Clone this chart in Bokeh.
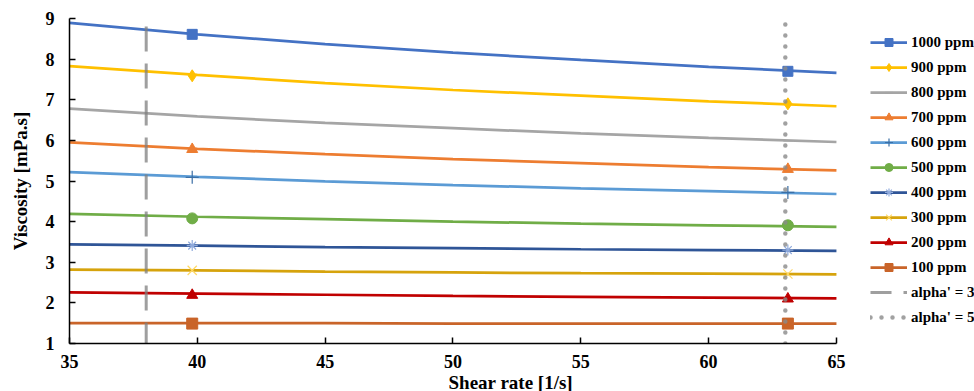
from bokeh.plotting import figure
from bokeh.models import Legend, LegendItem, Title, FixedTicker, Range1d
from bokeh.embed import file_html
from bokeh.resources import INLINE

# ---------------- data ----------------
shear = [35, 40, 45, 50, 55, 60, 65]
v1000 = [8.89, 8.61, 8.37, 8.16, 7.98, 7.81, 7.66]
v900 = [7.83, 7.61, 7.41, 7.24, 7.10, 6.96, 6.84]
v800 = [6.78, 6.59, 6.43, 6.30, 6.17, 6.06, 5.96]
v700 = [5.95, 5.79, 5.66, 5.54, 5.44, 5.34, 5.26]
v600 = [5.22, 5.10, 4.99, 4.90, 4.82, 4.75, 4.68]
v500 = [4.19, 4.12, 4.06, 4.00, 3.95, 3.91, 3.87]
v400 = [3.44, 3.41, 3.37, 3.35, 3.32, 3.30, 3.28]
v300 = [2.82, 2.80, 2.77, 2.75, 2.73, 2.72, 2.70]
v200 = [2.26, 2.23, 2.20, 2.17, 2.15, 2.13, 2.11]
v100 = [1.50, 1.50, 1.50, 1.49, 1.49, 1.49, 1.49]

marker_x = [39.8, 63.1]
m1000 = [8.61, 7.70]
m900 = [7.59, 6.90]
m800 = [6.60, 5.99]
m700 = [5.78, 5.29]
m600 = [5.09, 4.72]
m500 = [4.08, 3.91]
m400 = [3.41, 3.30]
m300 = [2.80, 2.71]
m200 = [2.19, 2.10]
m100 = [1.49, 1.49]

labels = ["1000 ppm", "900 ppm", "800 ppm", "700 ppm", "600 ppm",
          "500 ppm", "400 ppm", "300 ppm", "200 ppm", "100 ppm"]
alpha_labels = ["alpha' = 3", "alpha' = 5"]
alpha_x = [38, 63]
y_span = [1, 9]

x_ticks = [35, 40, 45, 50, 55, 60, 65]
y_ticks = [1, 2, 3, 4, 5, 6, 7, 8, 9]
x_axis_span = (35, 65)

# ---------------- styles ----------------
line_vals = [v1000, v900, v800, v700, v600, v500, v400, v300, v200, v100]
mark_vals = [m1000, m900, m800, m700, m600, m500, m400, m300, m200, m100]
colors = ["#4472C4", "#FFC000", "#A5A5A5", "#ED7D31", "#5B9BD5",
          "#70AD47", "#2F5597", "#D6A30C", "#C00000", "#C96429"]
markers = ["square", "diamond", "dash", "triangle", "cross",
           "circle", "asterisk", "x", "triangle", "square"]
msizes = [10, 12, 9, 11, 13, 11, 11, 13, 11, 11]
mline = ["#4472C4", "#FFC000", "#A5A5A5", "#ED7D31", "#3B6FA6",
         "#70AD47", "#8FAADC", "#FFD966", "#C00000", "#C96429"]

FONT = "Liberation Serif"

# frame spans to the right edge so the legend (drawn in the frame) is not clipped;
# the x axis itself is limited to 35..65 via bounds.
p = figure(width=974, height=391, x_range=Range1d(35, 70.4), y_range=Range1d(1, 9),
           output_backend="svg", toolbar_location=None,
           min_border_left=69, min_border_right=0, min_border_top=18,
           min_border_bottom=10)
p.outline_line_color = None
p.grid.visible = False
p.background_fill_color = "white"
p.border_fill_color = "white"

items = []
for vals, mv, col, mk, ms, ml, lab in zip(line_vals, mark_vals, colors, markers,
                                          msizes, mline, labels):
    lr = p.line(shear, vals, line_color=col, line_width=2.75)
    if mk in ("cross", "asterisk", "x", "dash"):
        sr = p.scatter(marker_x, mv, marker=mk, size=ms, line_color=ml,
                       fill_color=None, line_width=1.2)
    else:
        sr = p.scatter(marker_x, mv, marker=mk, size=ms, line_color=col,
                       fill_color=col, line_width=1)
    items.append(LegendItem(label=lab, renderers=[lr, sr]))

a3 = p.line([alpha_x[0], alpha_x[0]], y_span, line_color="#7F7F7F", line_alpha=0.75,
            line_width=3, line_dash="25 12", line_dash_offset=4)
a5 = p.line([alpha_x[1], alpha_x[1]], y_span, line_color="#8A8A8A", line_alpha=0.8,
            line_width=4.5, line_dash="0 11", line_cap="round")
items.append(LegendItem(label=alpha_labels[0], renderers=[a3]))
items.append(LegendItem(label=alpha_labels[1], renderers=[a5]))

legend = Legend(items=items, location=(801, 16), glyph_width=37, glyph_height=20,
                label_height=20, spacing=5, label_standoff=4, padding=0, margin=0,
                border_line_alpha=0, background_fill_alpha=0,
                label_text_font=FONT, label_text_font_style="bold",
                label_text_font_size="15px", label_text_color="black")
p.add_layout(legend)

for ax in (p.xaxis, p.yaxis):
    ax.axis_line_color = "black"
    ax.axis_line_width = 1.5
    ax.major_tick_line_color = "black"
    ax.major_tick_line_width = 1.5
    ax.major_tick_in = 6
    ax.major_tick_out = 0
    ax.minor_tick_line_color = None
    ax.major_label_text_font = FONT
    ax.major_label_text_font_style = "bold"
    ax.major_label_text_font_size = "18px"
    ax.major_label_text_color = "black"

p.xaxis.bounds = x_axis_span
p.xaxis.ticker = FixedTicker(ticks=x_ticks)
p.yaxis.ticker = FixedTicker(ticks=y_ticks)
p.xaxis.major_label_standoff = 11
p.yaxis.major_label_standoff = 15

p.yaxis.axis_label = "Viscosity [mPa.s]"
p.yaxis.axis_label_text_font = FONT
p.yaxis.axis_label_text_font_style = "bold"
p.yaxis.axis_label_text_font_size = "19px"
p.yaxis.axis_label_text_color = "black"
p.yaxis.axis_label_standoff = 12

xtitle = Title(text="Shear rate [1/s]", align="left", offset=379, standoff=-2,
               text_font=FONT, text_font_style="bold", text_font_size="19px",
               text_color="black")
p.add_layout(xtitle, "below")

open("out.html", "w").write(file_html(p, INLINE))
